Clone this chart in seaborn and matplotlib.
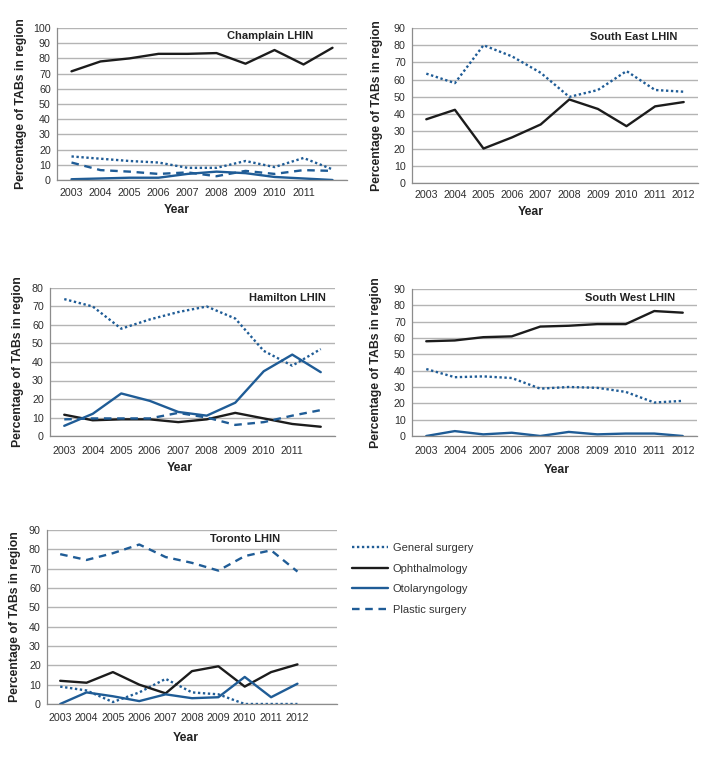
import matplotlib
matplotlib.use("Agg")
import matplotlib.pyplot as plt
import seaborn as sns

years = [2003, 2004, 2005, 2006, 2007, 2008, 2009, 2010, 2011, 2012]

champlain_general = [15.5, 14, 12.5, 11.5, 8, 8, 12.5, 8.5, 14.5, 7]
champlain_ophth = [71.5, 78, 80, 83, 83, 83.5, 76.5, 85.5, 76, 87]
champlain_oto = [0.5, 1, 1.5, 1.5, 4, 5.5, 4.5, 2, 1, 0]
champlain_plastic = [11.5, 6.5, 5.5, 4, 5, 2.5, 6, 4, 6.5, 6]

southeast_general = [63.5, 58, 80, 73.5, 64, 50, 54, 65, 54, 53]
southeast_ophth = [37, 42.5, 20, 26.5, 34, 48.5, 43, 33, 44.5, 47]

hamilton_general = [74, 70, 58, 63, 67, 70, 63.5, 46, 38, 47]
hamilton_ophth = [11.5, 8.5, 9, 9, 7.5, 9, 12.5, 9.5, 6.5, 5]
hamilton_oto = [5.5, 12, 23, 19, 13, 11, 18, 35, 44, 34.5]
hamilton_plastic = [9, 9.5, 9.5, 9.5, 12.5, 10, 6, 7.5, 11, 14]

southwest_general = [41, 36, 36.5, 35.5, 29, 30, 29.5, 27, 20.5, 21.5]
southwest_ophth = [58, 58.5, 60.5, 61, 67, 67.5, 68.5, 68.5, 76.5, 75.5]
southwest_oto = [0, 3, 1, 2, 0, 2.5, 1, 1.5, 1.5, 0]

toronto_general = [9, 7, 1, 6, 13, 6, 5, 0, 0, 0]
toronto_ophth = [12, 11, 16.5, 10, 5.5, 17, 19.5, 9, 16.5, 20.5]
toronto_oto = [0, 6, 4, 1.5, 5, 3, 3.5, 14, 3.5, 10.5]
toronto_plastic = [77.5, 74.5, 78, 82.5, 76, 73, 69, 76.5, 79.5, 68.5]

specialties = ["General surgery", "Ophthalmology", "Otolaryngology", "Plastic surgery"]

BLUE = "#1f5c96"
BLACK = "#1c1c1c"
GRID = "#b4b4b4"
AXIS = "#8c8c8c"
line_styles = {
    "General surgery": dict(color=BLUE, linestyle=(0, (1, 1.1)), lw=1.7),
    "Ophthalmology": dict(color=BLACK, linestyle="-", lw=1.7),
    "Otolaryngology": dict(color=BLUE, linestyle="-", lw=1.7),
    "Plastic surgery": dict(color=BLUE, linestyle=(0, (3.2, 2.4)), lw=1.7),
}

sns.set_style("white")
plt.rcParams["font.family"] = ["Liberation Sans", "DejaVu Sans"]

W, H = 715, 764
fig = plt.figure(figsize=(W / 100, H / 100), dpi=100)

# name, series, ymax, n slots, labelled years, axes box px (x0, x1, ytop, ybot),
# ylabel right edge px, Year centre px, title right/centre px, tick label pad
panels = [
    ("Champlain LHIN",
     {"General surgery": champlain_general, "Ophthalmology": champlain_ophth,
      "Otolaryngology": champlain_oto, "Plastic surgery": champlain_plastic},
     100, 10, 9, (57, 347, 28, 180), 27, (177, 210), (313, 36), 5.5),
    ("South East LHIN",
     {"General surgery": southeast_general, "Ophthalmology": southeast_ophth},
     90, 10, 10, (412, 698, 28, 183), 383, (531, 212), (677, 37), 5),
    ("Hamilton LHIN",
     {"General surgery": hamilton_general, "Ophthalmology": hamilton_ophth,
      "Otolaryngology": hamilton_oto, "Plastic surgery": hamilton_plastic},
     80, 10, 9, (50, 335, 288, 436), 24, (180, 468), (326, 298), 7.5),
    ("South West LHIN",
     {"General surgery": southwest_general, "Ophthalmology": southwest_ophth,
      "Otolaryngology": southwest_oto},
     90, 10, 10, (412, 697, 289, 436), 382, (557, 470), (675, 298), 7.5),
    ("Toronto LHIN",
     {"General surgery": toronto_general, "Ophthalmology": toronto_ophth,
      "Otolaryngology": toronto_oto, "Plastic surgery": toronto_plastic},
     90, 11, 10, (47, 337, 530, 704), 21, (186, 738), (280, 539), 6.5),
]

legend_ax = None
for name, series, ymax, nslots, nlab, box, ylab_r, year_c, title_p, tpad in panels:
    x0, x1, yt, yb = box
    ax = fig.add_axes([x0 / W, 1 - yb / H, (x1 - x0) / W, (yb - yt) / H])
    fx = lambda px: (px - x0) / (x1 - x0)
    fy = lambda py: (yb - py) / (yb - yt)

    for spec in specialties:
        if spec not in series:
            continue
        sns.lineplot(x=list(range(len(years))), y=series[spec], ax=ax,
                     label=spec, **line_styles[spec])
    if ax.get_legend() is not None:
        ax.get_legend().remove()

    ax.set_xlim(-0.5, nslots - 0.5)
    ax.set_ylim(0, ymax)
    ax.set_yticks(range(0, ymax + 1, 10))
    ax.yaxis.grid(True, color=GRID, lw=1)
    ax.set_axisbelow(True)

    ax.set_xticks([i - 0.5 for i in range(nslots + 1)])
    ax.set_xticklabels([])
    ax.set_xticks(range(nlab), minor=True)
    ax.set_xticklabels([str(y) for y in years[:nlab]], minor=True)
    ax.tick_params(axis="x", which="major", direction="out", length=3,
                   color=AXIS, width=0.8)
    ax.tick_params(axis="x", which="minor", length=0, pad=tpad,
                   labelsize=7.7, labelcolor="#2e2e2e")
    ax.tick_params(axis="y", direction="out", length=3, color=AXIS, width=0.8,
                   pad=1.5, labelsize=7.7, labelcolor="#2e2e2e")

    for side in ["top", "right"]:
        ax.spines[side].set_visible(False)
    for side in ["left", "bottom"]:
        ax.spines[side].set_color(AXIS)
        ax.spines[side].set_linewidth(0.9)

    ax.set_ylabel("Percentage of TABs in region", fontsize=8.8,
                  fontweight="bold", color="#222222")
    ax.yaxis.set_label_coords(fx(ylab_r), 0.5)
    ax.set_xlabel("Year", fontsize=8.8, fontweight="bold", color="#222222")
    ax.xaxis.set_label_coords(fx(year_c[0]), fy(year_c[1] - 6))

    ax.text(fx(title_p[0]), fy(title_p[1]), name, transform=ax.transAxes,
            ha="right", va="center", fontsize=8, fontweight="bold",
            color="#222222")
    if len(series) == 4 and name.startswith("Toronto"):
        legend_ax = ax

handles, labels = legend_ax.get_legend_handles_labels()
fig.legend(handles, labels, loc="upper left",
           bbox_to_anchor=(352 / W, 1 - 543 / H), frameon=False,
           fontsize=8, handlelength=3.2, handletextpad=0.45,
           labelspacing=0.95, borderpad=0, borderaxespad=0,
           labelcolor="#333333")

fig.savefig("out.png", dpi=100)
